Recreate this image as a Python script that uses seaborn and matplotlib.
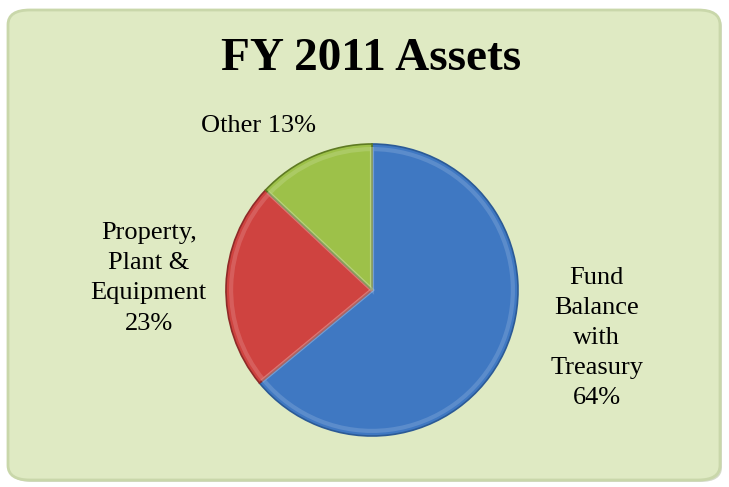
import matplotlib
matplotlib.use("Agg")
import matplotlib.pyplot as plt
import seaborn as sns
from matplotlib.patches import FancyBboxPatch

# Data
categories = ["Fund\nBalance\nwith\nTreasury", "Property,\nPlant &\nEquipment", "Other"]
shares = [64, 23, 13]
colors = ["#3F78C2", "#CF4340", "#9DC149"]
edge_colors = ["#2B5A96", "#8E2A28", "#5E7A22"]

sns.set_theme(style="white")
plt.rcParams["font.family"] = ["Liberation Serif", "DejaVu Serif"]
plt.rcParams["text.color"] = "black"

fig = plt.figure(figsize=(7.29, 4.87), dpi=100)
fig.patch.set_facecolor("white")

# Rounded green background box with a soft shadow
W, H = 729, 487
shadow = FancyBboxPatch((10 / W, 5 / H), 712 / W, 470 / H,
                        boxstyle="round,pad=0,rounding_size=0.03",
                        transform=fig.transFigure, facecolor="#B9C4A6",
                        edgecolor="none", alpha=0.6, zorder=0)
fig.patches.append(shadow)
box = FancyBboxPatch((8 / W, 7 / H), 712 / W, 470 / H,
                     boxstyle="round,pad=0,rounding_size=0.03",
                     transform=fig.transFigure, facecolor="#DFEAC3",
                     edgecolor="#C9D7AA", linewidth=2, zorder=1)
fig.patches.append(box)

fig.text(371 / W, 1 - 59 / H, "FY 2011 Assets", ha="center", va="center",
         fontsize=34, fontweight="bold", color="black", zorder=3)

# Pie axes: centre (372, 290) px, radius 146 px
cx, cy, r = 372, 290, 146
ax = fig.add_axes([(cx - r) / W, (H - cy - r) / H, 2 * r / W, 2 * r / H])
ax.set_zorder(2)
ax.patch.set_alpha(0)

wedges, _ = ax.pie(shares, colors=colors, startangle=90, counterclock=False,
                   radius=1,
                   wedgeprops=dict(linewidth=1.2))
for w, ec in zip(wedges, edge_colors):
    w.set_edgecolor(ec)

# soft inner highlight to mimic the bevel
inner, _ = ax.pie(shares, startangle=90, counterclock=False, radius=0.965,
                  wedgeprops=dict(linewidth=3, edgecolor="white", alpha=0.15,
                                  fill=False))

ax.set_xlim(-1, 1)
ax.set_ylim(-1, 1)
ax.set_aspect("equal")
ax.axis("off")

label_pos = [(1.54, -0.33), (-1.53, 0.08), (-0.78, 1.12)]
for name, val, (lx, ly) in zip(categories, shares, label_pos):
    if name == "Other":
        txt = f"{name} {val}%"
    else:
        txt = f"{name}\n{val}%"
    ax.text(lx, ly, txt, ha="center", va="center", fontsize=19,
            color="black", linespacing=1.48, clip_on=False)

fig.savefig("out.png", dpi=100, facecolor="white")
